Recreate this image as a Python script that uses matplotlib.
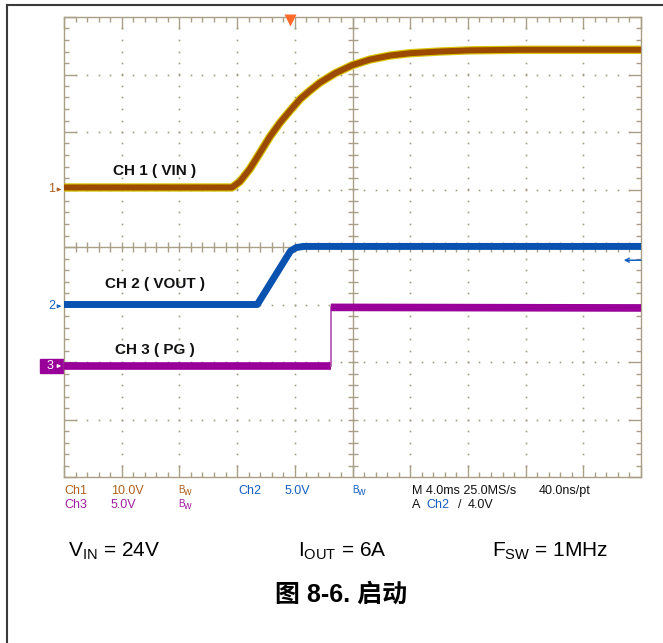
import numpy as np
import matplotlib.pyplot as plt
from matplotlib.patches import Rectangle
from matplotlib.lines import Line2D

plt.rcParams['font.family'] = ['Liberation Sans', 'Noto Sans CJK SC', 'DejaVu Sans']
plt.rcParams['mathtext.fontset'] = 'custom'
plt.rcParams['mathtext.rm'] = 'Liberation Sans'
plt.rcParams['mathtext.it'] = 'Liberation Sans:italic'

# time in ms from the left edge of the screen (4 ms/div, 10 div)
ch1_t = [0.0, 11.65, 12.2, 12.89, 13.59, 14.28, 14.97, 15.67, 16.36, 17.05, 17.75,
         18.79, 19.97, 21.21, 22.6, 23.99, 26.07, 28.15, 31.61, 40.0]
ch1_v = [0.35, 0.35, 1.4, 3.6, 6.4, 9.2, 11.6, 13.7, 15.7, 17.2, 18.6,
         20.2, 21.6, 22.6, 23.3, 23.7, 24.0, 24.2, 24.3, 24.3]

ch2_t = [0.0, 13.4, 15.7, 16.1, 16.6, 40.0]
ch2_v = [0.15, 0.15, 4.8, 5.1, 5.2, 5.2]

ch3_t = [0.0, 18.5, 18.5, 40.0]
ch3_v = [0.0, 0.0, 5.1, 5.05]

# channel settings: ground marker (div from bottom), volts/div
ch1_zero, ch1_scale = 5.0, 10.0
ch2_zero, ch2_scale = 2.97, 5.0
ch3_zero, ch3_scale = 1.93, 5.0
trig_t = 15.67
trig_level = 4.0

W, H = 663, 643
fig = plt.figure(figsize=(W / 100, H / 100), dpi=100)
ax = fig.add_axes([64 / W, 1 - 477 / H, 577 / W, 460 / H])
ax.set_xlim(0, 40)
ax.set_ylim(0, 8)

grat = '#a89f86'
for s in ax.spines.values():
    s.set_color(grat)
    s.set_linewidth(1.0)
ax.set_xticks(np.arange(0, 41, 4))
ax.set_yticks(np.arange(0, 9, 1))
ax.set_xticks(np.arange(0, 40.01, 0.8), minor=True)
ax.set_yticks(np.arange(0, 8.01, 0.2), minor=True)
ax.tick_params(which='both', direction='in', top=True, right=True, color=grat,
               labelbottom=False, labelleft=False, width=1.0)
ax.tick_params(which='major', length=8.5)
ax.tick_params(which='minor', length=3.6)

# dotted graticule
dot = '#a39b86'
for gx in [4, 8, 12, 16, 24, 28, 32, 36]:
    ys = np.arange(0.2, 7.9, 0.2)
    ax.plot([gx] * len(ys), ys, ls='none', marker='s', ms=1.2, color=dot, mec='none', zorder=1)
for gy in [1, 2, 3, 5, 6, 7]:
    xs = np.arange(0.8, 39.3, 0.8)
    ax.plot(xs, [gy] * len(xs), ls='none', marker='s', ms=1.2, color=dot, mec='none', zorder=1)

# centre cross with ticks
ax.axvline(20, color=grat, lw=1.0, zorder=1)
ax.axhline(4, color=grat, lw=1.0, zorder=1)
xs = np.arange(0.8, 39.3, 0.8)
ax.plot(xs, [4] * len(xs), ls='none', marker='|', ms=7, mew=1.0, color=grat, zorder=1)
ys = np.arange(0.2, 7.9, 0.2)
ax.plot([20] * len(ys), ys, ls='none', marker='_', ms=7, mew=1.0, color=grat, zorder=1)

# traces
y1 = ch1_zero + np.array(ch1_v) / ch1_scale
ax.plot(ch1_t, y1, color='#d8c400', lw=6.0, solid_capstyle='butt', zorder=3)
ax.plot(ch1_t, y1, color='#9b4a00', lw=4.3, solid_capstyle='butt', zorder=4)

y2 = ch2_zero + np.array(ch2_v) / ch2_scale
ax.plot(ch2_t, y2, color='#0a52b0', lw=5.0, solid_capstyle='butt', zorder=3)

y3 = ch3_zero + np.array(ch3_v) / ch3_scale
ax.plot(ch3_t[:2], y3[:2], color='#990099', lw=5.5, solid_capstyle='butt', zorder=3)
ax.plot(ch3_t[1:3], y3[1:3], color='#b050b0', lw=1.2, zorder=3)
ax.plot(ch3_t[2:], y3[2:], color='#990099', lw=5.5, solid_capstyle='butt', zorder=3)

# trace labels
lab = dict(fontsize=11, fontweight='bold', ha='center', va='center', color='#111111')
ax.text(6.3, ch1_zero + 0.33, 'CH 1 ( VIN )', **lab)
ax.text(6.3, ch2_zero + 0.38, 'CH 2 ( VOUT )', **lab)
ax.text(6.3, ch3_zero + 0.28, 'CH 3 ( PG )', **lab)

# ground markers
px = 4.0 / 57.7
ax.text(-12 * px, ch1_zero, '1', color='#b06020', fontsize=9, ha='center', va='center', clip_on=False)
ax.annotate('', xy=(0, ch1_zero), xytext=(-8 * px, ch1_zero), annotation_clip=False,
            arrowprops=dict(arrowstyle='-|>', color='#b06020', lw=0.8, mutation_scale=5))
ax.text(-12 * px, ch2_zero, '2', color='#1560c0', fontsize=9, ha='center', va='center', clip_on=False)
ax.annotate('', xy=(0, ch2_zero), xytext=(-8 * px, ch2_zero), annotation_clip=False,
            arrowprops=dict(arrowstyle='-|>', color='#1560c0', lw=0.8, mutation_scale=5))
fig.add_artist(Rectangle((40 / W, 1 - 373 / H), 24 / W, 14 / H, transform=fig.transFigure,
                         color='#990099', zorder=-1))
ax.text(-14 * px, ch3_zero, '3', color='white', fontsize=9, ha='center', va='center', clip_on=False, zorder=6)
ax.annotate('', xy=(0, ch3_zero), xytext=(-9 * px, ch3_zero), annotation_clip=False, zorder=6,
            arrowprops=dict(arrowstyle='-|>', color='white', lw=0.8, mutation_scale=5))

# trigger position and level
ax.plot(trig_t, 8 - 0.055, marker='v', ms=9, color='#ff6a2a', mec='none', clip_on=False, zorder=6)
ax.annotate('', xy=(38.8, ch2_zero + trig_level / ch2_scale),
            xytext=(40.0, ch2_zero + trig_level / ch2_scale), annotation_clip=False,
            arrowprops=dict(arrowstyle='->', color='#1560c0', lw=1.1, mutation_scale=7,
                            shrinkA=0, shrinkB=0))

# scope readout
nar = ['Liberation Sans Narrow', 'Liberation Sans', 'DejaVu Sans']
brn, blu, pur = '#b06020', '#1560c0', '#a020a0'


def rd(x, y, s, c, size=9):
    fig.text(x / W, 1 - y / H, s, color=c, fontsize=size, family=nar, ha='left', va='center')


def bw(x, y, c):
    rd(x, y - 1, 'B', c, 7)
    rd(x + 5, y + 1, 'w', c, 7.5)


rd(64, 491, 'Ch1', brn)
rd(111, 491, '10.0V', brn)
bw(178, 491, brn)
rd(238, 491, 'Ch2', blu)
rd(285, 491, '5.0V', blu)
bw(352, 491, blu)
rd(412, 491, 'M 4.0ms 25.0MS/s', '#111111')
rd(539, 491, '40.0ns/pt', '#111111')
rd(64, 505, 'Ch3', pur)
rd(111, 505, '5.0V', pur)
bw(178, 505, pur)
rd(412, 505, 'A', '#111111')
rd(426, 505, 'Ch2', blu)
rd(458, 505, '/', '#111111')
rd(468, 505, '4.0V', '#111111')

# test conditions and caption
fig.text(68 / W, 1 - 551 / H, r'V$_{\mathrm{IN}}$ = 24V', fontsize=15, ha='left', va='center')
fig.text(298 / W, 1 - 551 / H, r'I$_{\mathrm{OUT}}$ = 6A', fontsize=15, ha='left', va='center')
fig.text(492 / W, 1 - 551 / H, r'F$_{\mathrm{SW}}$ = 1MHz', fontsize=15, ha='left', va='center')
fig.text(341 / W, 1 - 595 / H, '图 8-6. 启动', fontsize=18, fontweight='bold', ha='center', va='center')

# page frame lines
fig.add_artist(Line2D([7 / W, 1], [1 - 5 / H, 1 - 5 / H], transform=fig.transFigure, color='#3a3a3a', lw=1.5))
fig.add_artist(Line2D([7 / W, 7 / W], [0, 1 - 5 / H], transform=fig.transFigure, color='#3a3a3a', lw=1.5))

fig.savefig('out.png', dpi=100)
